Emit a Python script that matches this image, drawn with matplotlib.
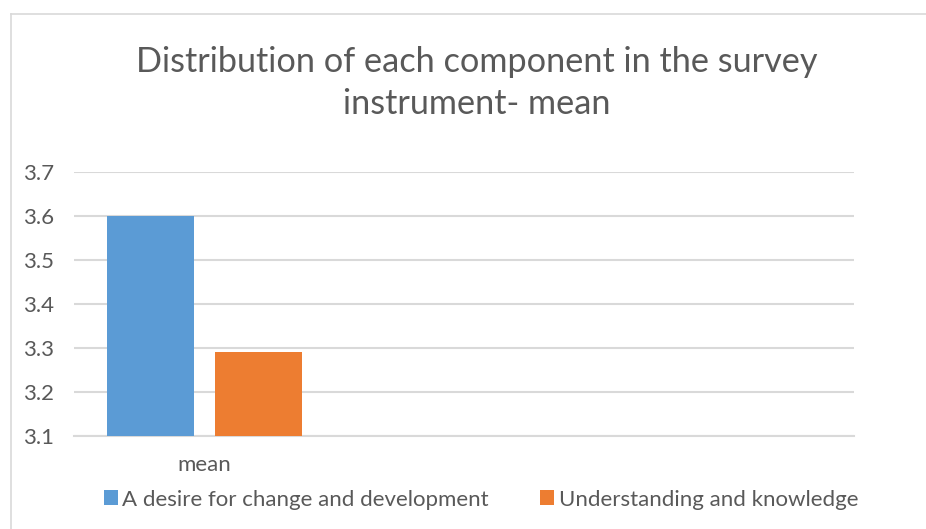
import matplotlib
matplotlib.use("Agg")
import matplotlib.pyplot as plt
from matplotlib.lines import Line2D
from matplotlib.patches import Patch

plt.rcParams['font.family'] = ['Lato', 'DejaVu Sans']

categories = ["mean"]
series_names = ["A desire for change and development", "Understanding and knowledge"]
series_values = [[3.6], [3.29]]
colors = ["#5B9BD5", "#ED7D31"]
yticks = [3.1, 3.2, 3.3, 3.4, 3.5, 3.6, 3.7]
title = "Distribution of each component in the survey\ninstrument- mean"

W, H = 926, 529
fig = plt.figure(figsize=(W / 100, H / 100), dpi=100)
ax = fig.add_axes([74 / W, 1 - 435.7 / H, (854 - 74) / W, (435.7 - 172) / H])

width = 0.4
offsets = [-0.25, 0.25]
for i, (name, vals) in enumerate(zip(series_names, series_values)):
    xs = [j + offsets[i] for j in range(len(categories))]
    ax.bar(xs, [v - 3.1 for v in vals], bottom=3.1, width=width, color=colors[i], label=name, zorder=3)

ax.set_ylim(3.1, 3.7)
ax.set_xlim(-0.6, 2.986)
ax.set_yticks(yticks)
ax.set_yticklabels([f"{t:.1f}" for t in yticks])
ax.set_xticks(range(len(categories)))
ax.set_xticklabels(categories)
ax.grid(axis='y', color='#d9d9d9', linewidth=1.5, zorder=0)
for s in ['top', 'right', 'left']:
    ax.spines[s].set_visible(False)
ax.spines['bottom'].set_color('#d9d9d9')
ax.spines['bottom'].set_linewidth(1.5)
ax.tick_params(axis='both', length=0, labelsize=16, colors='#595959')
ax.tick_params(axis='y', pad=37)
ax.tick_params(axis='x', pad=14)
for lbl in ax.get_yticklabels():
    lbl.set_horizontalalignment('left')

fig.text(477 / W, 1 - 83 / H, title, ha='center', va='center', fontsize=24.7,
         color='#595959', linespacing=1.35)

handles = [Patch(facecolor=c, edgecolor='none') for c in colors]
fig.legend(handles, series_names, loc='center', bbox_to_anchor=(481 / W, 1 - 499.5 / H),
           ncol=2, frameon=False, fontsize=16, labelcolor='#595959',
           handlelength=0.64, handleheight=0.64, handletextpad=0.2, columnspacing=2.3)

fig.add_artist(Line2D([11 / W, 11 / W], [0, 1 - 13.5 / H], transform=fig.transFigure,
                      color='#d9d9d9', linewidth=1.2))
fig.add_artist(Line2D([11 / W, 1], [1 - 13.5 / H, 1 - 13.5 / H], transform=fig.transFigure,
                      color='#d9d9d9', linewidth=1.2))

fig.savefig("out.png", dpi=100, facecolor='white')
